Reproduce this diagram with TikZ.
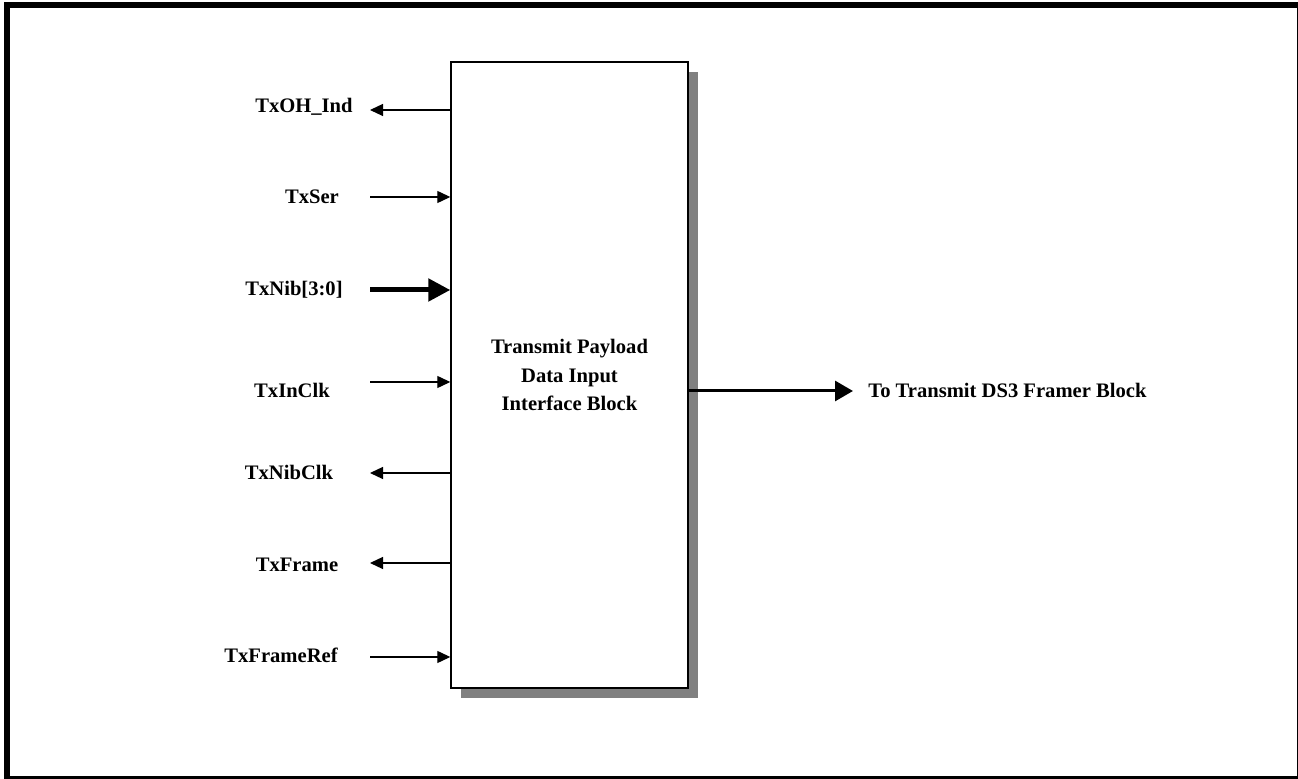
\documentclass[tikz,border=0pt]{standalone}
\usepackage{fontspec}
\setmainfont{Liberation Serif}
\usepackage{tikz}
\usetikzlibrary{arrows.meta,positioning,shadows}

\begin{document}
\begin{tikzpicture}[
      x=0.5pt, y=-0.5pt,
      every node/.style={font=\fontsize{10.3}{14.25}\selectfont\bfseries, inner sep=0pt},
      block/.style={draw, line width=0.7pt, fill=white, minimum width=118.5pt, minimum height=313pt,
        align=center, drop shadow={shadow xshift=5pt, shadow yshift=-5pt, fill=black!50, opacity=1}},
      sigin/.style={line width=0.6pt, -{Triangle[length=6.5pt, width=6pt]}},
      sigout/.style={line width=0.6pt, {Triangle[length=6.5pt, width=6pt]}-},
      bus/.style={line width=2.5pt, -{Triangle[length=11pt, width=11pt]}},
      outsig/.style={line width=1.5pt, -{Triangle[length=9pt, width=10pt]}}
    ]
    \useasboundingbox (0,0) rectangle (1298,779);
    % outer frame
    \draw[line width=3pt] (7,5) rectangle (1299.5,779.5);
    % the interface block
    \node[block] (blk) at (569.5,375) {Transmit Payload\\Data Input\\Interface Block};
    % pins on the left side: label / arrow y / label x / label baseline / style
    \foreach \i/\lbl/\y/\cx/\by/\st in {
        1/TxOH\_Ind/110/304/113/sigout,
        2/TxSer/197/312/204/sigin,
        3/TxNib[3:0]/290/294/296/bus,
        4/TxInClk/382/292/398/sigin,
        5/TxNibClk/473/289/480/sigout,
        6/TxFrame/563/297/572/sigout,
        7/TxFrameRef/657/281/663/sigin}{
      \node[anchor=base] (lbl\i) at (\cx,\by) {\lbl};
      \coordinate (pin\i) at (370,\y);
      \draw[\st] (pin\i) -- (pin\i -| blk.west);
    }
    % output towards the framer
    \coordinate (tip) at (853,391);
    \draw[outsig] (blk.east |- tip) -- (tip);
    \node[anchor=base west] (dest) at (868,398) {To Transmit DS3 Framer Block};
  \end{tikzpicture}
\end{document}
